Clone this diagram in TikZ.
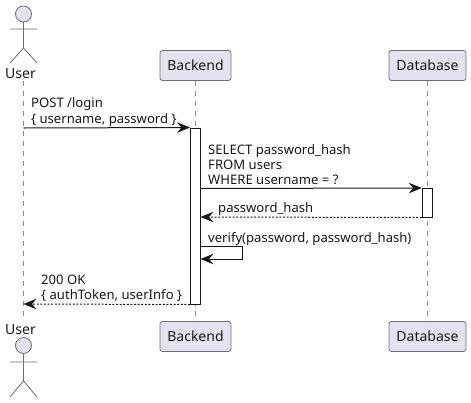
\documentclass[tikz,border=0pt]{standalone}
\usepackage{fontspec}
\setmainfont{Noto Sans}
\usetikzlibrary{arrows.meta}
\definecolor{partfill}{HTML}{E2E2F0}
\definecolor{partline}{HTML}{6E6E78}
\definecolor{ink}{HTML}{181818}
\tikzset{
  x=1pt,y=-1pt,
  partbox/.style={draw=partline,fill=partfill,rounded corners=2.5pt,line width=.8pt,minimum height=30pt,inner sep=0pt,font=\fontsize{14}{15}\selectfont,text=ink},
  actorline/.style={draw=partline,line width=.8pt},
  actorname/.style={font=\fontsize{14}{15}\selectfont,text=ink,inner sep=0pt},
  life/.style={draw=partline!80,line width=.7pt,dash pattern=on 5pt off 5pt},
  activation/.style={draw=ink,fill=white,line width=1pt,minimum width=10pt,inner sep=0pt},
  msg/.style={draw=ink,line width=1pt,-{Stealth[length=13pt,width=10.5pt,inset=4.5pt]}},
  ret/.style={msg,dash pattern=on 2pt off 1.6pt},
  lbl/.style={anchor=west,align=left,inner sep=0pt,text=ink,font=\fontsize{13.1}{15.2}\selectfont},
}
\begin{document}
\begin{tikzpicture}
\useasboundingbox (0,0) rectangle (471,402);
% lifelines
\coordinate (utop) at (23.5,81); \coordinate (ubot) at (23.5,321);
\node[partbox,minimum width=71pt] (bt) at (195.5,65.5) {Backend};
\node[partbox,minimum width=71pt] (bb) at (195.5,336.5) {Backend};
\node[partbox,minimum width=77pt] (dt) at (427.5,65.5) {Database};
\node[partbox,minimum width=77pt] (db) at (427.5,336.5) {Database};
\draw[life] (utop) -- (ubot);
\draw[life] (bt.south) -- (bb.north);
\draw[life] (dt.south) -- (db.north);
% actors
\node[actorname] (un1) at (20.5,74) {User};
\node[actorname] (un2) at (20.5,330) {User};
\draw[actorline,fill=partfill] (23.5,14) circle (8);
\draw[actorline] (23.5,22)--(23.5,48) (10,29)--(37,29) (10,63)--(23.5,48)--(37,63);
\draw[actorline,fill=partfill] (23.5,345.5) circle (8);
\draw[actorline] (23.5,353.5)--(23.5,381) (10,362)--(37,362) (10,397)--(23.5,381)--(37,397);
% activations
\node[activation,minimum height=176pt] (ab) at (195.5,216) {};
\node[activation,minimum height=28.5pt] (ad) at (427.25,202.75) {};
% messages
\coordinate (u1) at (23.5,128); \coordinate (b1) at (ab.north west);
\draw[msg] (u1) -- (b1);
\node[lbl] (m1) at (31,112) {POST /login\\\{ username, password \}};
\coordinate (b2) at (200.5,188.5); \coordinate (d2) at (ad.north west);
\draw[msg] (b2) -- (d2);
\node[lbl] (m2) at (208,164.5) {SELECT password\_hash\\FROM users\\WHERE username = ?};
\coordinate (d3) at (ad.south west); \coordinate (b3) at (200.5,217);
\draw[ret] (d3) -- (b3);
\node[lbl] (m3) at (218,209) {password\_hash};
\coordinate (s1) at (200.5,246.5); \coordinate (s2) at (200.5,259);
\draw[msg] (s1) -- (242.5,246.5) -- (242.5,259) -- (s2);
\node[lbl] (m4) at (208,239) {verify(password, password\_hash)};
\coordinate (b5) at (ab.south west); \coordinate (u5) at (23.5,304);
\draw[ret] (b5) -- (u5);
\node[lbl] (m5) at (41,288.5) {200 OK\\\{ authToken, userInfo \}};
\end{tikzpicture}
\end{document}
